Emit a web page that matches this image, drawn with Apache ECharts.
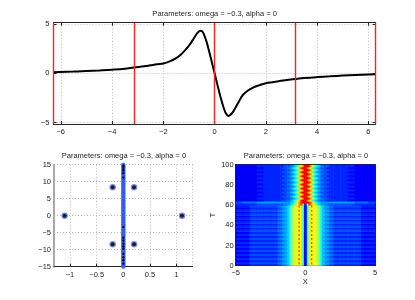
<!DOCTYPE html>
<html><head><meta charset="utf-8">
<script src="https://cdn.jsdelivr.net/npm/echarts@6/dist/echarts.min.js"></script>
<style>html,body{margin:0;padding:0;background:#fff}#c{width:415px;height:300px}</style>
</head><body><div id="c"></div>
<script>
// ---------- DATA ----------
const titleText = 'Parameters: omega = \u22120.3, alpha = 0';

// top panel: curve
const curveX = [-6.2832, -5.5, -5, -4.5, -4, -3.5, -3.1416, -2.75, -2.5, -2.25, -2, -1.75, -1.5, -1.3, -1.1, -0.95, -0.8, -0.7, -0.6, -0.53, -0.45, -0.38, -0.3, -0.2, -0.1, 0, 0.1, 0.2, 0.3, 0.38, 0.45, 0.53, 0.6, 0.7, 0.8, 0.95, 1.1, 1.3, 1.5, 1.75, 2, 2.25, 2.5, 2.75, 3.1416, 3.5, 4, 4.5, 5, 5.5, 6.2832];
const curveY = [0.12, 0.18, 0.24, 0.3, 0.37, 0.47, 0.6, 0.72, 0.82, 0.92, 1.0, 1.22, 1.55, 1.95, 2.5, 3.0, 3.6, 4.0, 4.28, 4.33, 4.15, 3.72, 3.1, 2.1, 1.05, 0, -1.05, -2.1, -3.05, -3.7, -4.1, -4.33, -4.25, -4.0, -3.55, -2.85, -2.2, -1.75, -1.45, -1.2, -1.0, -0.9, -0.8, -0.7, -0.58, -0.48, -0.38, -0.3, -0.22, -0.16, -0.08];
const redLineX = [-6.2832, -3.1416, 0, 3.1416, 6.2832];

// bottom-left panel: spectrum points
const eigX = [-1.1, 1.1, -0.2, 0.2, -0.2, 0.2];
const eigY = [0, 0, 8.4, 8.4, -8.4, -8.4];
const bandY = [-15, -14.5, -14, -13.5, -13, -12.5, -12, -11.5, -11, -10.5, -10, -9.5, -9, -8.5, -8, -7.5, -7, -6.5, -6, -5.5, -5, -4.5, -4, -3.5, -3, -2.5, -2, -1.5, -1, -0.5, 0, 0.5, 1, 1.5, 2, 2.5, 3, 3.5, 4, 4.5, 5, 5.5, 6, 6.5, 7, 7.5, 8, 8.5, 9, 9.5, 10, 10.5, 11, 11.5, 12, 12.5, 13, 13.5, 14, 14.5, 15];
const bandBlackY = [14.8, 14.3, 13.7, 13.3, 12.5, 11.2, -3.3, -6.5, -7.3, -8.2, -9.0, -9.7, -11.2, -12.2, -13.1, -14.1];

// bottom-right panel: |u|(X,T) levels, one char per cell, a=0 ... z=25
const colEdges = [-5, -4.5, -4, -3.5, -3, -2.5, -2, -1.9, -1.8, -1.7, -1.6, -1.5, -1.4, -1.3, -1.2, -1.1, -1, -0.9, -0.8, -0.7, -0.6, -0.5, -0.4, -0.3, -0.2, -0.1, 0, 0.1, 0.2, 0.3, 0.4, 0.5, 0.6, 0.7, 0.8, 0.9, 1, 1.1, 1.2, 1.3, 1.4, 1.5, 1.6, 1.7, 1.8, 1.9, 2, 2.5, 3, 3.5, 4, 4.5, 5];
const rowEdges = [0, 2, 4, 6, 8, 10, 12, 14, 16, 18, 20, 22, 24, 26, 28, 30, 32, 34, 36, 38, 40, 42, 44, 46, 48, 50, 52, 54, 56, 58, 60, 62, 64, 66, 68, 70, 72, 74, 76, 78, 80, 82, 84, 86, 88, 90, 92, 94, 96, 98, 100];
const rN  = 'ddeeee' + 'fffgghhijlnoppqqpnkd' + 'dknpqqpponljihhggfff' + 'eeeedd';
const rD  = 'eeffff' + 'ggghhhiijlnoppquqnkd' + 'dknquqpponljiihhhggg' + 'ffffee';
const rT  = 'eeefff' + 'ffffggghhijkmoqsuuqe' + 'equusqomkjihhgggffff' + 'fffeee';
const rL  = 'fgghhh' + 'hhhhhhhhhiijlnpsuwww' + 'wwwuspnljiihhhhhhhhh' + 'hhhggf';
const rUa = 'ddddee' + 'eeeffffgghijkmprtwxw' + 'wtrpmkjihggffffeeeee' + 'eedddd';
const rUb = 'dddeee' + 'eeeeeffffgghijkmprtw' + 'wxwtrpmkjihggffffeee' + 'eeeddd';
const heatRows = [
  rN, rD, rN, rD, rN, rD, rN, rD, rN, rD,
  rN, rD, rN, rD, rN, rD, rN, rD, rN, rD,
  rN, rD, rN, rD, rN, rD, rN, rD, rN, rD,
  rT, rL,
  rUa, rUb, rUa, rUb, rUa, rUb, rUa, rUb, rUa, rUb,
  rUa, rUb, rUa, rUb, rUa, rUb, rUa, rUb
];
const jet = ['#000080', '#0000ff', '#0080ff', '#00ffff', '#80ff80', '#ffff00', '#ff8000', '#ff0000', '#800000'];

// ---------- BUILD ----------
const FONT = '"Liberation Sans", Arial, Helvetica, sans-serif';
const TXT = '#262626';
const FS = 7.5;
const minus = v => String(v).replace('-', '\u2212');

const heatData = [];
heatRows.forEach((row, i) => {
  for (let j = 0; j < row.length; j++) {
    heatData.push([colEdges[j], colEdges[j + 1], rowEdges[i], rowEdges[i + 1], row.charCodeAt(j) - 97]);
  }
});

const G = [
  {left: 53.5, top: 22.7, width: 322.2, height: 101.3},
  {left: 54, top: 164.7, width: 138.7, height: 102},
  {left: 235.7, top: 164.7, width: 139.3, height: 101}
];
const dotted = {show: true, lineStyle: {color: '#b8b8b8', width: 1, type: [1, 2]}};
const lab = (extra) => Object.assign({fontSize: FS, color: TXT, fontFamily: FONT, formatter: minus}, extra || {});
const line = (c, w) => ({show: true, onZero: false, lineStyle: {color: c || TXT, width: w || 1}});
const tick = {show: true, inside: true, length: 3, lineStyle: {color: TXT}};

const option = {
  animation: false,
  textStyle: {fontFamily: FONT},
  grid: G.map(g => Object.assign({containLabel: false}, g)),
  xAxis: [
    {gridIndex: 0, type: 'value', min: -6.2832, max: 6.2832, splitNumber: 6, axisLine: line(), axisTick: tick,
     axisLabel: lab({margin: 4, showMinLabel: false, showMaxLabel: false}), splitLine: dotted},
    {gridIndex: 0, type: 'value', position: 'top', min: -6.2832, max: 6.2832, splitNumber: 6, axisLine: line(), axisTick: tick,
     axisLabel: {show: false}, splitLine: {show: false}},
    {gridIndex: 1, type: 'value', min: -1.3, max: 1.3, splitNumber: 5, axisLine: line(), axisTick: tick,
     axisLabel: lab({margin: 4, showMinLabel: false, showMaxLabel: false}), splitLine: dotted},
    {gridIndex: 2, type: 'value', min: -5, max: 5, interval: 5, axisLine: line(), axisTick: tick,
     axisLabel: lab({margin: 3}), splitLine: {show: false},
     name: 'X', nameLocation: 'middle', nameGap: 12, nameTextStyle: {fontSize: FS, color: TXT, fontFamily: FONT}},
    {gridIndex: 2, type: 'value', position: 'top', min: -5, max: 5, interval: 5, axisLine: line(), axisTick: tick,
     axisLabel: {show: false}, splitLine: {show: false}}
  ],
  yAxis: [
    {gridIndex: 0, type: 'value', min: -5.15, max: 5.15, splitNumber: 2, axisLine: line(), axisTick: tick,
     axisLabel: lab({margin: 4, showMinLabel: false, showMaxLabel: false}), splitLine: dotted},
    {gridIndex: 0, type: 'value', position: 'right', min: -5.15, max: 5.15, splitNumber: 2, axisLine: line(), axisTick: tick,
     axisLabel: {show: false}, splitLine: {show: false}},
    {gridIndex: 1, type: 'value', min: -15, max: 15, interval: 5, axisLine: line('#a8a8a8', 2), axisTick: {show: false},
     axisLabel: lab({margin: 3}), splitLine: dotted},
    {gridIndex: 2, type: 'value', min: 0, max: 100, interval: 20, axisLine: line(), axisTick: tick,
     axisLabel: lab({margin: 2}), splitLine: {show: false},
     name: 'T', nameLocation: 'middle', nameGap: 17, nameRotate: 90, nameTextStyle: {fontSize: FS, color: TXT, fontFamily: FONT}},
    {gridIndex: 2, type: 'value', position: 'right', min: 0, max: 100, interval: 20, axisLine: line(), axisTick: tick,
     axisLabel: {show: false}, splitLine: {show: false}}
  ],
  visualMap: {type: 'continuous', show: false, seriesIndex: 6, dimension: 4, min: 0, max: 25, inRange: {color: jet}},
  graphic: [
    {x: 214.6, y: 14.3}, {x: 124, y: 155.7}, {x: 306, y: 155.7}
  ].map(p => ({type: 'text', x: p.x, y: p.y, silent: true,
      style: {text: titleText, fill: TXT, fontSize: FS, fontFamily: FONT, align: 'center', verticalAlign: 'middle'}})),
  series: [
    {type: 'line', xAxisIndex: 0, yAxisIndex: 0, data: [], z: 1, silent: true,
     markLine: {silent: true, symbol: ['none', 'none'], label: {show: false},
       lineStyle: {color: '#ff2020', width: 1.4, type: 'solid'},
       data: redLineX.map(v => ({xAxis: v}))}},
    {type: 'line', xAxisIndex: 0, yAxisIndex: 0, z: 3, smooth: 0.4, showSymbol: false, symbol: 'none',
     lineStyle: {color: '#000', width: 2},
     data: curveX.map((x, i) => [x, curveY[i]])},
    {type: 'scatter', xAxisIndex: 2, yAxisIndex: 2, symbol: 'circle', symbolSize: 4.5, z: 3,
     itemStyle: {color: '#3158f2'}, data: bandY.map(y => [0, y])},
    {type: 'scatter', xAxisIndex: 2, yAxisIndex: 2, symbol: 'circle', symbolSize: 6.5, z: 3,
     itemStyle: {color: '#5a6fe6'}, data: eigX.map((x, i) => [x, eigY[i]])},
    {type: 'scatter', xAxisIndex: 2, yAxisIndex: 2, symbol: 'circle', symbolSize: 4, z: 4,
     itemStyle: {color: '#000'}, data: eigX.map((x, i) => [x, eigY[i]])},
    {type: 'scatter', xAxisIndex: 2, yAxisIndex: 2, symbol: 'circle', symbolSize: 2.4, z: 4,
     itemStyle: {color: '#000'}, data: bandBlackY.map(y => [0, y])},
    {type: 'custom', xAxisIndex: 3, yAxisIndex: 3, z: 1, clip: true,
     encode: {x: [0, 1], y: [2, 3]},
     renderItem: function (params, api) {
       const p0 = api.coord([api.value(0), api.value(3)]);
       const p1 = api.coord([api.value(1), api.value(2)]);
       return {type: 'rect', shape: {x: p0[0], y: p0[1], width: p1[0] - p0[0] + 0.5, height: p1[1] - p0[1] + 0.5},
               style: {fill: api.visual('color')}};
     },
     data: heatData}
  ]
};
const chart = echarts.init(document.getElementById('c'), null, {renderer: 'canvas'});
chart.setOption(option);
</script></body></html>
